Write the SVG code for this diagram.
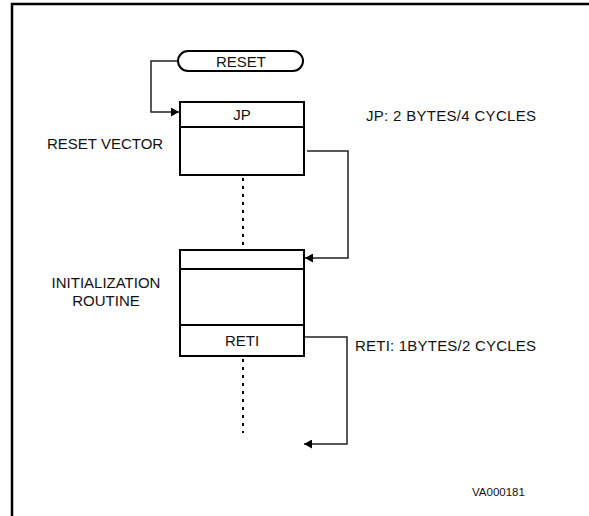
<svg xmlns="http://www.w3.org/2000/svg" width="589" height="516" viewBox="0 0 589 516">
<defs>
<style>
.t{font-family:"Liberation Sans",Arial,sans-serif;font-size:15px;fill:#111;}
.box{fill:#fff;stroke:#000;stroke-width:2;}
.ln{fill:none;stroke:#000;stroke-width:2;}
.cn{fill:none;stroke:#222;stroke-width:1.5;}
.dot{fill:none;stroke:#000;stroke-width:2;stroke-dasharray:3 5;}
</style>
<marker id="ah" markerWidth="9" markerHeight="9" refX="8" refY="4.5" orient="auto" markerUnits="userSpaceOnUse">
<path d="M0,0 L8,4.5 L0,9 Z" fill="#000"/>
</marker>
</defs>
<rect width="589" height="516" fill="#fff"/>
<path d="M12,516 V4 H589" fill="none" stroke="#000" stroke-width="2.5"/>

<g id="reset">
<rect x="178" y="51" width="125" height="20" rx="10" ry="10" class="box" stroke-width="1.8"/>
<text x="241" y="67" class="t" text-anchor="middle">RESET</text>
</g>

<g id="reset-vector">
<rect x="180" y="102" width="124" height="73" class="box"/>
<line x1="180" y1="127" x2="304" y2="127" class="ln"/>
<text x="242" y="120" class="t" text-anchor="middle">JP</text>
</g>

<g id="init-routine">
<rect x="180" y="250" width="124" height="106" class="box"/>
<line x1="180" y1="269" x2="304" y2="269" class="ln"/>
<line x1="180" y1="325" x2="304" y2="325" class="ln"/>
<text x="242" y="346" class="t" text-anchor="middle">RETI</text>
</g>

<g id="labels">
<text x="47" y="149" class="t">RESET VECTOR</text>
<text x="106" y="288" class="t" text-anchor="middle">INITIALIZATION</text>
<text x="106" y="306" class="t" text-anchor="middle">ROUTINE</text>
<text x="366" y="121" class="t" textLength="170" lengthAdjust="spacing">JP: 2 BYTES/4 CYCLES</text>
<text x="355" y="351" class="t" textLength="181" lengthAdjust="spacing">RETI: 1BYTES/2 CYCLES</text>
<text x="472" y="496" class="t" style="font-size:11.5px">VA000181</text>
</g>

<g id="connectors">
<polyline points="178,61 151,61 151,112 179,112" class="cn" marker-end="url(#ah)"/>
<polyline points="307,151 348,151 348,258 305,258" class="cn" marker-end="url(#ah)"/>
<polyline points="305,337 347,337 347,444 304,444" class="cn" marker-end="url(#ah)"/>
<line x1="243" y1="178" x2="243" y2="248" class="dot"/>
<line x1="243" y1="359" x2="243" y2="433" class="dot"/>
</g>
</svg>
